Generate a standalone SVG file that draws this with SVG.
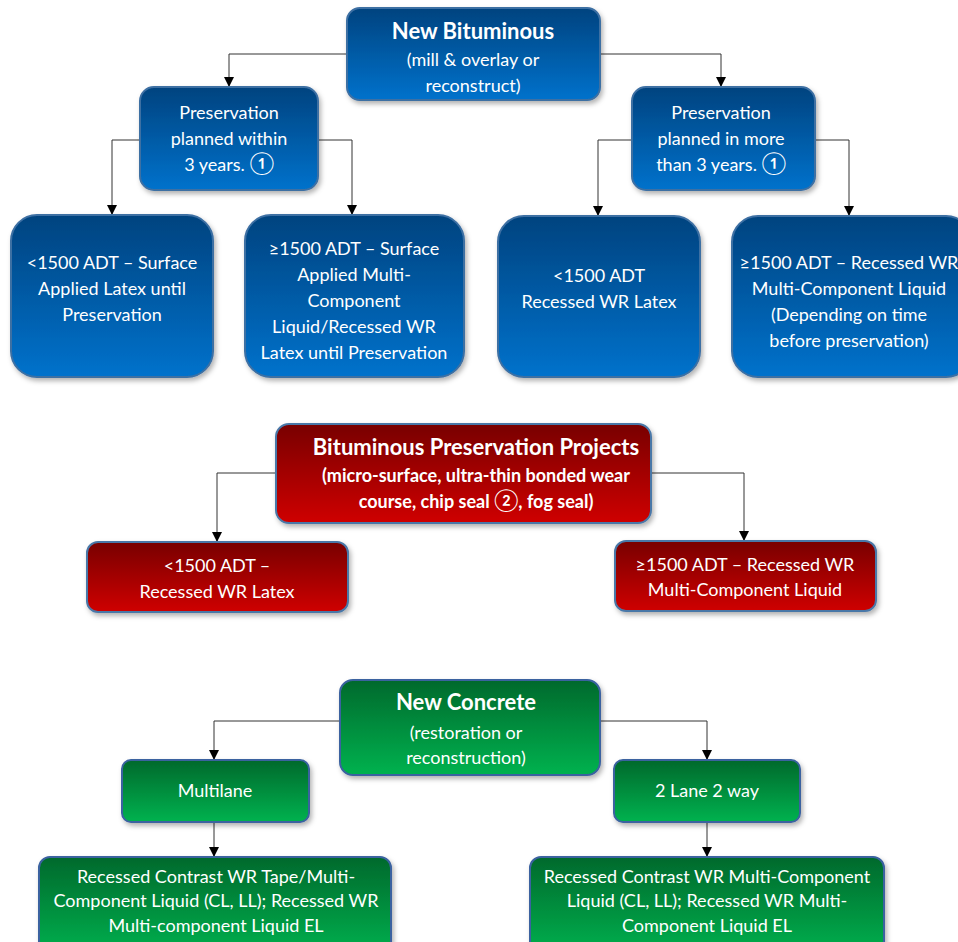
<svg xmlns="http://www.w3.org/2000/svg" width="958" height="942" viewBox="0 0 958 942">
<defs>
<linearGradient id="gb" x1="0" y1="0" x2="0" y2="1"><stop offset="0" stop-color="#00437f"/><stop offset="1" stop-color="#0072cc"/></linearGradient>
<linearGradient id="gr" x1="0" y1="0" x2="0" y2="1"><stop offset="0" stop-color="#780000"/><stop offset="1" stop-color="#cf0000"/></linearGradient>
<linearGradient id="gg" x1="0" y1="0" x2="0" y2="1"><stop offset="0" stop-color="#00692c"/><stop offset="1" stop-color="#00b24f"/></linearGradient>
<filter id="sh" x="-10%" y="-10%" width="125%" height="130%"><feDropShadow dx="2" dy="3" stdDeviation="2.5" flood-color="#000" flood-opacity="0.3"/></filter>
<marker id="ar" viewBox="0 0 10 10" refX="10" refY="5" markerWidth="10" markerHeight="10" markerUnits="userSpaceOnUse" orient="auto"><path d="M0,0 L10,5 L0,10 z" fill="#000"/></marker>
<style>
.b{fill:url(#gb);stroke:#3d6fa3;stroke-width:2;filter:url(#sh)}
.r{fill:url(#gr);stroke:#4a78a8;stroke-width:2;filter:url(#sh)}
.g{fill:url(#gg);stroke:#3b62a0;stroke-width:2;filter:url(#sh)}
text{font-family:Lato,"Liberation Sans","DejaVu Sans",sans-serif;fill:#fff;text-anchor:middle;font-size:18px}
.t{font-weight:bold;font-size:22px}
.rs{font-weight:bold;font-size:18px}
.c{font-size:18px}
.ct{font-size:22px;font-weight:bold}
.n{font-size:22px;font-weight:normal}
.cn path{fill:none;stroke:#333;stroke-width:1;marker-end:url(#ar)}
</style>
</defs>
<g class="cn" id="connectors">
<path d="M347,54 H229 V87"/>
<path d="M600,54 H721 V87"/>
<path d="M140,140 H112 V215"/>
<path d="M318,140 H352 V215"/>
<path d="M632,140 H598 V216"/>
<path d="M815,140 H849 V216"/>
<path d="M276,473 H217 V542"/>
<path d="M651,473 H744 V541"/>
<path d="M340,721 H214 V760"/>
<path d="M600,721 H707 V760"/>
<path d="M214,822 V857"/>
<path d="M707,822 V857"/>
</g>
<g id="new-bituminous"><rect class="b" x="347" y="8" width="253" height="92" rx="13"/>
<text class="t" x="473" y="39">New Bituminous</text>
<text x="473" y="66">(mill &amp; overlay or</text>
<text x="473" y="92">reconstruct)</text></g>
<g id="pres-within"><rect class="b" x="140" y="87" width="178" height="103" rx="14"/>
<text x="229" y="119">Preservation</text>
<text x="229" y="145">planned within</text>
<text x="229" y="171">3 years. <tspan class="n">①</tspan></text></g>
<g id="pres-more"><rect class="b" x="632" y="87" width="183" height="103" rx="14"/>
<text x="721" y="119">Preservation</text>
<text x="721" y="145">planned in more</text>
<text x="721" y="171">than 3 years. <tspan class="n">①</tspan></text></g>
<g id="b1"><rect class="b" x="11" y="215" width="202" height="162" rx="26"/>
<text x="112" y="269">&lt;1500 ADT – Surface</text>
<text x="112" y="295">Applied Latex until</text>
<text x="112" y="321">Preservation</text></g>
<g id="b2"><rect class="b" x="245" y="215" width="219" height="162" rx="26"/>
<text x="354" y="255">≥1500 ADT – Surface</text>
<text x="354" y="281">Applied Multi-</text>
<text x="354" y="307">Component</text>
<text x="354" y="333">Liquid/Recessed WR</text>
<text x="354" y="359">Latex until Preservation</text></g>
<g id="b3"><rect class="b" x="498" y="216" width="202" height="161" rx="26"/>
<text x="599" y="282">&lt;1500 ADT</text>
<text x="599" y="308">Recessed WR Latex</text></g>
<g id="b4"><rect class="b" x="732" y="216" width="240" height="161" rx="26"/>
<text x="849" y="269">≥1500 ADT – Recessed WR</text>
<text x="849" y="295">Multi-Component Liquid</text>
<text x="849" y="321">(Depending on time</text>
<text x="849" y="347">before preservation)</text></g>
<g id="bit-pres"><rect class="r" x="276" y="424" width="375" height="99" rx="13"/>
<text class="t" x="476" y="455">Bituminous Preservation Projects</text>
<text class="rs" x="476" y="482">(micro-surface, ultra-thin bonded wear</text>
<text class="rs" x="476" y="508">course, chip seal <tspan class="n">②</tspan>, fog seal)</text></g>
<g id="r1"><rect class="r" x="87" y="542" width="261" height="70" rx="11"/>
<text x="217" y="572">&lt;1500 ADT –</text>
<text x="217" y="598">Recessed WR Latex</text></g>
<g id="r2"><rect class="r" x="615" y="541" width="261" height="70" rx="11"/>
<text x="745" y="571">≥1500 ADT – Recessed WR</text>
<text x="745" y="596">Multi-Component Liquid</text></g>
<g id="new-concrete"><rect class="g" x="340" y="680" width="260" height="95" rx="13"/>
<text class="ct" x="466" y="710">New Concrete</text>
<text class="c" x="466" y="739">(restoration or</text>
<text class="c" x="466" y="764">reconstruction)</text></g>
<g id="multilane"><rect class="g" x="122" y="760" width="187" height="62" rx="9"/>
<text class="c" x="215" y="797">Multilane</text></g>
<g id="two-lane"><rect class="g" x="614" y="760" width="186" height="62" rx="9"/>
<text class="c" x="707" y="797">2 Lane 2 way</text></g>
<g id="g1"><rect class="g" x="39" y="857" width="352" height="100" rx="11"/>
<text class="c" x="216" y="883">Recessed Contrast WR Tape/Multi-</text>
<text class="c" x="216" y="907">Component Liquid (CL, LL); Recessed WR</text>
<text class="c" x="216" y="932">Multi-component Liquid EL</text></g>
<g id="g2"><rect class="g" x="530" y="857" width="354" height="100" rx="11"/>
<text class="c" x="707" y="883">Recessed Contrast WR Multi-Component</text>
<text class="c" x="707" y="907">Liquid (CL, LL); Recessed WR Multi-</text>
<text class="c" x="707" y="932">Component Liquid EL</text></g>
</svg>
